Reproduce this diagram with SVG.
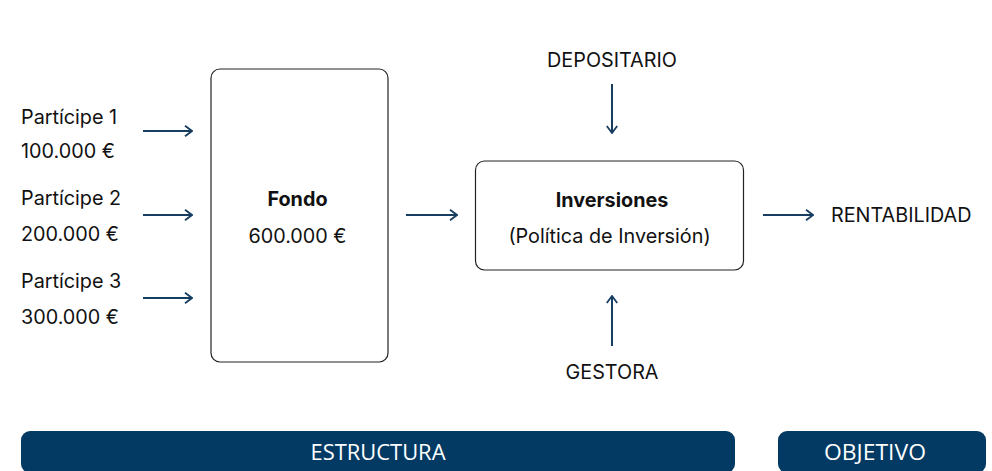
<svg xmlns="http://www.w3.org/2000/svg" width="992" height="471" viewBox="0 0 992 471">
<defs>
<marker id="ah" viewBox="0 0 12 12" refX="11" refY="6" markerWidth="12" markerHeight="12" markerUnits="userSpaceOnUse" orient="auto">
<path d="M4,0.8 L11,6 L4,11.2" fill="none" stroke="#173d61" stroke-width="1.8"/>
</marker>
</defs>
<style>
.t{font-family:Inter,"Noto Sans","Liberation Sans",sans-serif;font-size:19.8px;fill:#111}
.b{font-weight:bold}
.box{fill:#fff;stroke:#222;stroke-width:1.2}
.c{stroke:#173d61;stroke-width:2;fill:none;marker-end:url(#ah)}
.bar{fill:#023a63}
.bt{font-family:"Open Sans","Liberation Sans",sans-serif;font-size:21px;fill:#fff;text-anchor:middle}
</style>
<rect width="992" height="471" fill="#fff"/>
<g id="p1"><text class="t" x="21" y="124">Partícipe 1</text><text class="t" x="21" y="158">100.000 €</text></g>
<g id="p2"><text class="t" x="21" y="205">Partícipe 2</text><text class="t" x="21" y="241">200.000 €</text></g>
<g id="p3"><text class="t" x="21" y="288">Partícipe 3</text><text class="t" x="21" y="324">300.000 €</text></g>
<g id="fondo"><rect class="box" x="211" y="69" width="177" height="293" rx="9"/><text class="t b" x="297.5" y="206" text-anchor="middle">Fondo</text><text class="t" x="297.5" y="243" text-anchor="middle">600.000 €</text></g>
<g id="inversiones"><rect class="box" x="475.5" y="161" width="268" height="109" rx="9"/><text class="t b" x="612" y="207" text-anchor="middle">Inversiones</text><text class="t" x="609.5" y="243" text-anchor="middle">(Política de Inversión)</text></g>
<g id="depositario"><text class="t" x="612" y="67" text-anchor="middle">DEPOSITARIO</text></g>
<g id="gestora"><text class="t" x="612" y="379" text-anchor="middle">GESTORA</text></g>
<g id="rentabilidad"><text class="t" x="831" y="222">RENTABILIDAD</text></g>
<g id="connectors">
<line class="c" x1="143" y1="131" x2="192" y2="131"/>
<line class="c" x1="143" y1="215" x2="192" y2="215"/>
<line class="c" x1="143" y1="298" x2="192" y2="298"/>
<line class="c" x1="406" y1="215" x2="457" y2="215"/>
<line class="c" x1="763" y1="215" x2="813" y2="215"/>
<line class="c" x1="612" y1="84" x2="612" y2="133"/>
<line class="c" x1="612" y1="346" x2="612" y2="296"/>
</g>
<g id="estructura"><rect class="bar" x="21" y="431" width="714" height="42" rx="9"/><text class="bt" x="378" y="460" textLength="135" lengthAdjust="spacingAndGlyphs">ESTRUCTURA</text></g>
<g id="objetivo"><rect class="bar" x="778" y="431" width="208" height="42" rx="9"/><text class="bt" x="875" y="460" textLength="102" lengthAdjust="spacingAndGlyphs">OBJETIVO</text></g>
</svg>
